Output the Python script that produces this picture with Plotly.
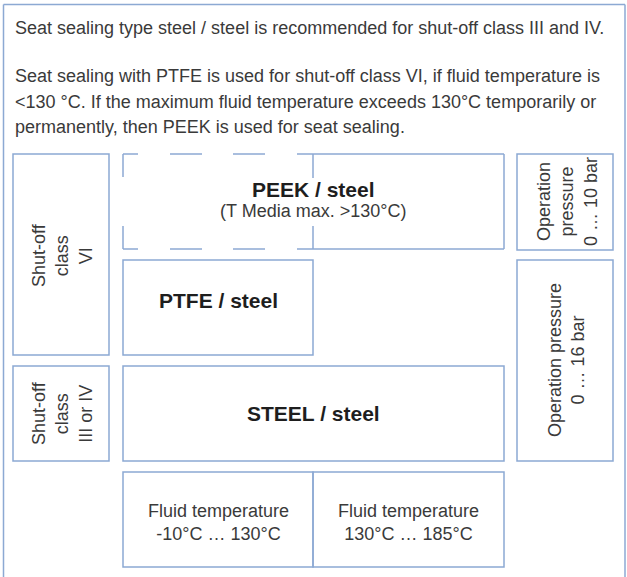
import plotly.graph_objects as go

# ---- text content ----
intro_lines = [
    "Seat sealing type steel / steel is recommended for shut-off class III and IV.",
    "Seat sealing with PTFE is used for shut-off class VI, if fluid temperature is",
    "<130 °C. If the maximum fluid temperature exceeds 130°C temporarily or",
    "permanently, then PEEK is used for seat sealing.",
]
material_labels = ["PEEK / steel", "PTFE / steel", "STEEL / steel"]
peek_note = "(T Media max. >130°C)"
shutoff_labels = ["Shut-off<br>class<br>VI", "Shut-off<br>class<br>III or IV"]
pressure_labels = ["Operation<br>pressure<br>0 … 10 bar", "Operation pressure<br>0 … 16 bar"]
temperature_labels = ["Fluid temperature<br>-10°C … 130°C", "Fluid temperature<br>130°C … 185°C"]

# ---- layout geometry (pixels, y downward) ----
W, H = 627, 577
LINE = "#8CA9D3"
TXT = "#3a3a3a"
BOLD = "#1e1e1e"
FONT = "Liberation Sans, Arial, sans-serif"

fig = go.Figure()
shapes = []

def rect(x0, y0, x1, y1, w=1.5):
    shapes.append(dict(type="rect", x0=x0, y0=y0, x1=x1, y1=y1, xref="x", yref="y",
                       line=dict(color=LINE, width=w), fillcolor="rgba(0,0,0,0)", layer="above"))

def seg(x0, y0, x1, y1, w=1.5):
    shapes.append(dict(type="line", x0=x0, y0=y0, x1=x1, y1=y1, xref="x", yref="y",
                       line=dict(color=LINE, width=w), layer="above"))

# outer frame (open at bottom)
seg(3.5, 4.5, 625, 4.5)
seg(3.5, 4.5, 3.5, H + 5)
seg(625, 4.5, 625, H + 5)

# left column
rect(13, 154, 109, 355)
rect(13, 366, 109, 461)
# right column
rect(517, 154, 613, 250)
rect(517, 260, 613, 461)
# PTFE, STEEL
rect(123, 260, 313, 355)
rect(123, 366, 504, 461)
# temperature boxes
rect(123, 472, 313, 567)
rect(313, 472, 504, 567)

# PEEK box: solid right part
seg(313, 154, 504, 154)
seg(504, 154, 504, 249)
seg(313, 249, 504, 249)
seg(313, 154, 313, 178)
seg(313, 226, 313, 249)
# dashed left part
for xa, xb in [(123, 138), (170, 202), (233, 265), (297, 313)]:
    seg(xa, 154, xb, 154)
    seg(xa, 249, xb, 249)
seg(123, 154, 123, 177)
seg(123, 226, 123, 249)

ann = []
def text(x, y, t, size=18, color=TXT, bold=False, angle=0, xanchor="center"):
    ann.append(dict(x=x, y=y, xref="x", yref="y", text=("<b>%s</b>" % t) if bold else t,
                    showarrow=False, textangle=angle, xanchor=xanchor, yanchor="middle",
                    align="center", font=dict(family=FONT, size=size, color=color)))

for yy, line in zip([28, 76, 102, 127], intro_lines):
    text(13, yy, line, xanchor="left")

text(313, 189, material_labels[0], size=21, color=BOLD, bold=True)
text(313, 211, peek_note)
text(218, 300, material_labels[1], size=21, color=BOLD, bold=True)
text(313, 413, material_labels[2], size=21, color=BOLD, bold=True)

text(62, 255, shutoff_labels[0], angle=-90)
text(62, 413, shutoff_labels[1], angle=-90)
text(567, 202, pressure_labels[0], angle=-90)
text(566, 360, pressure_labels[1], angle=-90)

text(218, 522, temperature_labels[0])
text(408, 522, temperature_labels[1])

fig.update_layout(
    width=W, height=H, margin=dict(l=0, r=0, t=0, b=0),
    paper_bgcolor="white", plot_bgcolor="white",
    xaxis=dict(range=[0, W], visible=False, fixedrange=True),
    yaxis=dict(range=[H, 0], visible=False, fixedrange=True),
    shapes=shapes, annotations=ann, showlegend=False,
)
fig.write_html("out.html", config={"displayModeBar": False},
               post_script="document.body.style.margin='0';document.body.style.overflow='hidden';")
